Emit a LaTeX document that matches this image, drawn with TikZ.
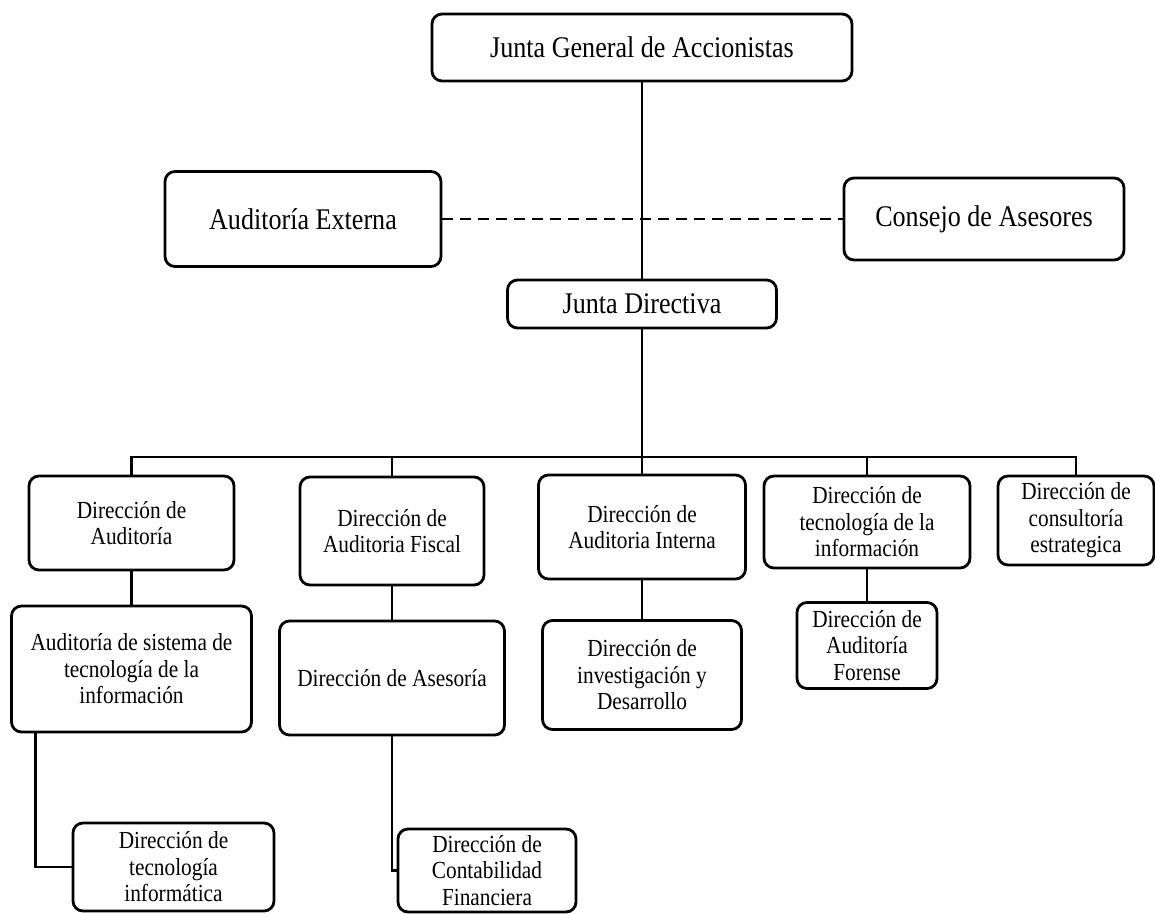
\documentclass[tikz,border=0pt]{standalone}
\usepackage{fontspec}
\setmainfont{Liberation Serif}[FakeStretch=0.87]

\begin{document}
\begin{tikzpicture}[x=1pt,y=-1pt,
    caja/.style={draw,line width=2.8pt,rounded corners=10pt,align=center,
        inner sep=0pt,text=black},
    grande/.style={caja,font=\fontsize{30}{34}\selectfont},
    chica/.style={caja,font=\fontsize{24.5}{26.5}\selectfont},
    linea/.style={line width=2.8pt}]
%\draw[help lines] (0,0) grid[step=100] (1155,913);
\useasboundingbox (0,0) rectangle (1155,913);

\node[grande,minimum width=420,minimum height=67] (jga) at (642,47.5) {Junta General de Accionistas};
\node[grande,minimum width=276,minimum height=95] (ext) at (303,219) {Auditoría Externa};
\node[grande,minimum width=280,minimum height=82] (cons) at (984,219) {Consejo de Asesores};
\node[grande,minimum width=269,minimum height=48] (jd) at (642,304) {Junta Directiva};

\node[chica,minimum width=205,minimum height=94] (dirAud) at (131.5,523) {Dirección de\\Auditoría};
\node[chica,minimum width=184,minimum height=108] (dirFis) at (392,531) {Dirección de\\Auditoria Fiscal};
\node[chica,minimum width=207,minimum height=104] (dirInt) at (642,527) {Dirección de\\Auditoria Interna};
\node[chica,minimum width=206,minimum height=92] (dirTec) at (867,522) {Dirección de\\tecnología de la\\información};
\node[chica,minimum width=156,minimum height=89] (dirCons) at (1076,520.5) {Dirección de\\consultoría\\estrategica};

\node[chica,minimum width=240,minimum height=126] (audSis) at (131.5,669) {Auditoría de sistema de\\tecnología de la\\información};
\node[chica,minimum width=225,minimum height=114] (dirAse) at (392,678) {Dirección de Asesoría};
\node[chica,minimum width=199,minimum height=109] (dirInv) at (642,675) {Dirección de\\investigación y\\Desarrollo};
\node[chica,minimum width=140,minimum height=86] (dirFor) at (867,645.5) {Dirección de\\Auditoría\\Forense};

\node[chica,minimum width=201,minimum height=88] (dirInf) at (173.5,867) {Dirección de\\tecnología\\informática};
\node[chica,minimum width=178,minimum height=83] (dirCont) at (487,870.5) {Dirección de\\Contabilidad\\Financiera};

\coordinate (bus) at (642,457);

\draw[linea] (jga.south) -- (jd.north);
\draw[linea,dashed,dash pattern=on 11pt off 7pt] (ext.east) -- (cons.west);
\draw[linea] (jd.south) -- (dirInt.north);
\draw[linea] (dirAud.north) |- (bus) -| (dirCons.north);
\draw[linea] (dirFis.north) -- (dirFis.north |- bus);
\draw[linea] (dirTec.north) -- (dirTec.north |- bus);

\draw[linea] (dirAud.south) -- (audSis.north);
\draw[linea] (dirFis.south) -- (dirAse.north);
\draw[linea] (dirInt.south) -- (dirInv.north);
\draw[linea] (dirTec.south) -- (dirFor.north);

\draw[linea] ([xshift=25]audSis.south west) |- (dirInf.west);
\draw[linea] (dirAse.south) |- (dirCont.west);
\end{tikzpicture}
\end{document}
